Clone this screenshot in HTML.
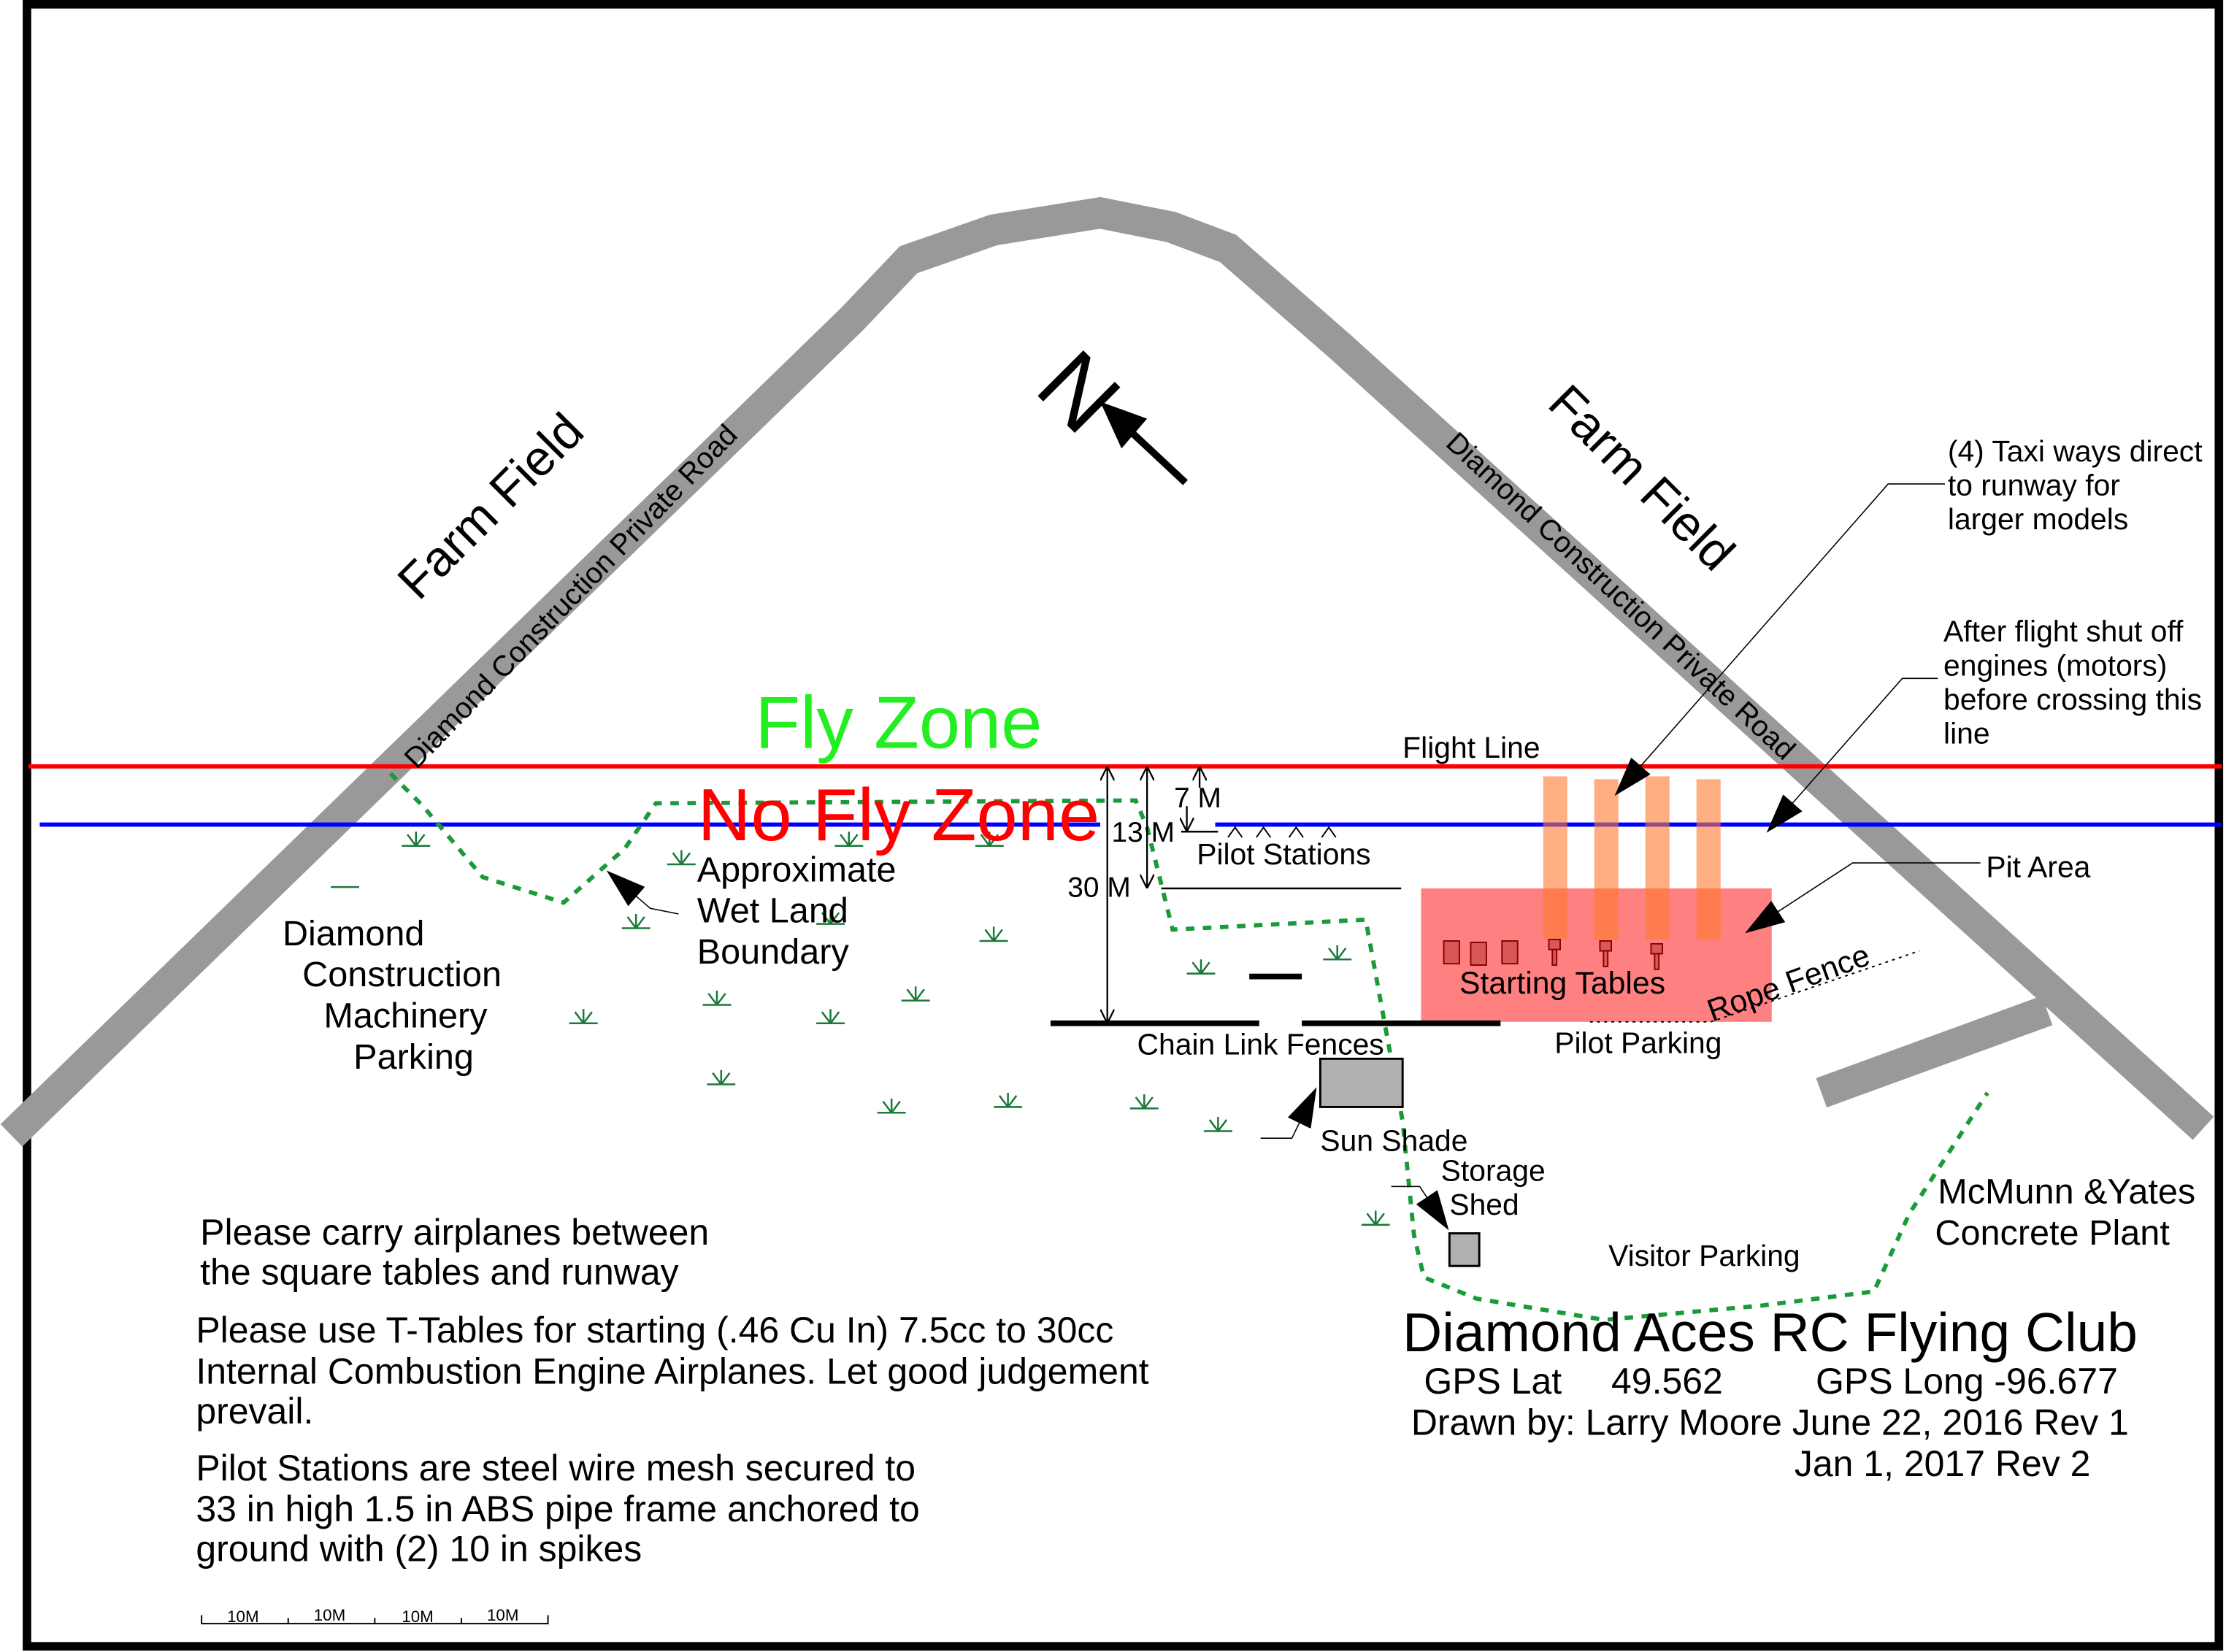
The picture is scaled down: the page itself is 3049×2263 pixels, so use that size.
<!DOCTYPE html>
<html><head><meta charset="utf-8"><style>
html,body{margin:0;padding:0;background:#fff}
svg{display:block}
text{font-family:"Liberation Sans",Arial,sans-serif}
</style></head><body>
<svg width="3049" height="2263" viewBox="0 0 1568 1164" preserveAspectRatio="none" xmlns="http://www.w3.org/2000/svg">
<defs>
<marker id="ah" markerWidth="10" markerHeight="10" refX="9" refY="5" orient="auto-start-reverse" markerUnits="userSpaceOnUse"><path d="M0,0 L10,5 L0,10" fill="none" stroke="#000" stroke-width="1.2"/></marker>
<marker id="fa" markerWidth="28" markerHeight="18" refX="27" refY="9" orient="auto" markerUnits="userSpaceOnUse"><path d="M0,0 L28,9 L0,18 Z" fill="#000"/></marker>
<g id="gr" stroke="#1a7a3a" stroke-width="1.3" fill="none"><path d="M-10,0 H10 M0,0 L-6,-8 M0,0 L0,-10 M0,0 L6,-8"/></g>
</defs>
<rect x="0" y="0" width="1568" height="1164" fill="#fff"/>
<rect x="19" y="3" width="1544" height="1157" fill="none" stroke="#000" stroke-width="6"/>
<!-- road -->
<polyline points="8,800 600,225 640,183 700,162 775,150 825,160 865,175 945,245 1552,795" fill="none" stroke="#999" stroke-width="22" stroke-linejoin="miter"/>
<line x1="1442" y1="712" x2="1283" y2="770" stroke="#999" stroke-width="22"/>
<!-- lines -->
<line x1="20" y1="540" x2="1565" y2="540" stroke="#f00" stroke-width="3"/>
<line x1="28" y1="581" x2="775" y2="581" stroke="#00f" stroke-width="3"/>
<line x1="856" y1="581" x2="1565" y2="581" stroke="#00f" stroke-width="3"/>
<!-- runways and pit -->
<rect x="1001" y="626" width="247" height="94" fill="#ff8080"/>
<g fill="#ff7a30" opacity="0.6"><rect x="1087" y="547" width="17" height="115"/><rect x="1123" y="549" width="17" height="113"/><rect x="1159" y="547" width="17" height="115"/><rect x="1195" y="549" width="17" height="113"/></g>
<g fill="#d85858" stroke="#8b0000" stroke-width="1"><rect x="1017" y="663" width="11" height="16"/><rect x="1036" y="664" width="11" height="16"/><rect x="1058" y="663" width="11" height="16"/>
<rect x="1091" y="662" width="8" height="7"/><rect x="1093.5" y="669" width="3" height="11"/>
<rect x="1127" y="663" width="8" height="7"/><rect x="1129.5" y="670" width="3" height="11"/>
<rect x="1163" y="665" width="8" height="7"/><rect x="1165.5" y="672" width="3" height="11"/></g>
<!-- green boundary -->
<polyline points="275,545 298,568 340,618 397,636 440,598 462,566 800,564 808,583 826,655 962,648 988,790 996,870 1003,900 1040,915 1130,930 1240,920 1320,910 1345,855 1400,770" fill="none" stroke="#1a9a3a" stroke-width="3" stroke-dasharray="6,6"/>
<!-- grass -->
<g>
<use href="#gr" x="293" y="596"/><use href="#gr" x="448" y="654"/><use href="#gr" x="480" y="609"/><use href="#gr" x="598" y="596"/><use href="#gr" x="697" y="596"/><use href="#gr" x="700" y="663"/><use href="#gr" x="505" y="708"/><use href="#gr" x="585" y="721"/><use href="#gr" x="645" y="705"/><use href="#gr" x="411" y="721"/><use href="#gr" x="508" y="764"/><use href="#gr" x="628" y="784"/><use href="#gr" x="710" y="780"/><use href="#gr" x="806" y="781"/><use href="#gr" x="858" y="797"/><use href="#gr" x="846" y="686"/><use href="#gr" x="942" y="676"/><use href="#gr" x="969" y="863"/><use href="#gr" x="585" y="651"/>
<line x1="233" y1="625" x2="253" y2="625" stroke="#1a7a3a" stroke-width="1.3"/>
</g>
<!-- fences etc -->
<g stroke="#000">
<line x1="740" y1="721" x2="887" y2="721" stroke-width="4"/>
<line x1="917" y1="721" x2="1057" y2="721" stroke-width="4"/>
<line x1="818" y1="626" x2="987" y2="626" stroke-width="1.3"/>
<line x1="832" y1="586" x2="858" y2="586" stroke-width="1.3"/>
<line x1="880" y1="688" x2="917" y2="688" stroke-width="4"/>
<path d="M865,590 L870,583 L875,590 M885,590 L890,583 L895,590 M908,590 L913,583 L918,590 M931,590 L936,583 L941,590" fill="none" stroke-width="1"/>
<line x1="780" y1="541" x2="780" y2="720" stroke-width="1.2" marker-start="url(#ah)" marker-end="url(#ah)"/>
<line x1="808" y1="541" x2="808" y2="625" stroke-width="1.2" marker-start="url(#ah)" marker-end="url(#ah)"/>
<line x1="845" y1="555" x2="845" y2="541" stroke-width="1.2" marker-end="url(#ah)"/>
<line x1="836" y1="568" x2="836" y2="585" stroke-width="1.2" marker-end="url(#ah)"/>
</g>
<rect x="930" y="746" width="58" height="34" fill="#b0b0b0" stroke="#000" stroke-width="1.5"/>
<rect x="1021" y="869" width="21" height="23" fill="#b0b0b0" stroke="#000" stroke-width="1.5"/>
<!-- rope fence -->
<polyline points="1120,720 1205,720 1352,670" fill="none" stroke="#000" stroke-width="1" stroke-dasharray="2,3"/>
<!-- leaders -->
<g stroke="#000" stroke-width="0.8" fill="none">
<path d="M478,644 L458,640 L428,614" marker-end="url(#fa)"/>
<path d="M888,802 L910,802 L927,767" marker-end="url(#fa)"/>
<path d="M980,836 L1000,836 L1020,866" marker-end="url(#fa)"/>
<path d="M1370,341 L1330,341 L1138,560" marker-end="url(#fa)"/>
<path d="M1365,478 L1340,478 L1245,586" marker-end="url(#fa)"/>
<path d="M1395,608 L1305,608 L1230,657" marker-end="url(#fa)"/>
</g>
<!-- north arrow -->
<line x1="835" y1="340" x2="790" y2="298" stroke="#000" stroke-width="5"/>
<path d="M775,283 L808,295 L790,316 Z" fill="#000"/>
<text x="0" y="0" font-size="66" transform="translate(744,292) rotate(45)" text-anchor="middle">N</text>
<!-- rotated labels -->
<text font-size="35" text-anchor="middle" transform="translate(354,365) rotate(-45)">Farm Field</text>
<text font-size="20.5" text-anchor="middle" transform="translate(407,425) rotate(-46)">Diamond Construction Private Road</text>
<text font-size="35" text-anchor="middle" transform="translate(1148,345) rotate(45)">Farm Field</text>
<text font-size="20.5" text-anchor="middle" transform="translate(1137,425) rotate(43)">Diamond Construction Private Road</text>
<text font-size="22" transform="translate(1206,720) rotate(-20)">Rope Fence</text>
<!-- big labels -->
<text x="633" y="527" font-size="52" fill="#22ee22" text-anchor="middle">Fly Zone</text>
<text x="633" y="592" font-size="52" fill="#f00" text-anchor="middle">No Fly Zone</text>
<g font-size="25" fill="#000">
<text x="491" y="621">Approximate</text><text x="491" y="650">Wet Land</text><text x="491" y="679">Boundary</text>
<text x="199" y="666">Diamond</text><text x="213" y="695">Construction</text><text x="228" y="724">Machinery</text><text x="249" y="753">Parking</text>
<text x="1365" y="848">McMunn &amp;Yates</text><text x="1363" y="877">Concrete Plant</text>
</g>
<g font-size="25.7" fill="#000">
<text x="141" y="877">Please carry airplanes between</text><text x="141" y="905">the square tables and runway</text>
<text x="138" y="946">Please use T-Tables for starting (.46 Cu In) 7.5cc to 30cc</text>
<text x="138" y="975">Internal Combustion Engine Airplanes. Let good judgement</text>
<text x="138" y="1003">prevail.</text>
<text x="138" y="1043">Pilot Stations are steel wire mesh secured to</text>
<text x="138" y="1072">33 in high 1.5 in ABS pipe frame anchored to</text>
<text x="138" y="1100">ground with (2) 10 in spikes</text>
<text x="1003" y="982">GPS Lat</text><text x="1135" y="982">49.562</text><text x="1279" y="982">GPS Long -96.677</text>
<text x="994" y="1011">Drawn by: Larry Moore June 22, 2016 Rev 1</text>
<text x="1264" y="1040">Jan 1, 2017 Rev 2</text>
</g>
<text x="988" y="952" font-size="38.5">Diamond Aces RC Flying Club</text>
<g font-size="21" fill="#000">
<text x="783" y="593" font-size="20">13 M</text><text x="827" y="569" font-size="20">7 M</text><text x="752" y="632" font-size="20">30 M</text>
<text x="843" y="609">Pilot Stations</text>
<text x="988" y="534">Flight Line</text>
<text x="1028" y="700" font-size="22">Starting Tables</text>
<text x="1095" y="742">Pilot Parking</text>
<text x="801" y="743">Chain Link Fences</text>
<text x="930" y="811">Sun Shade</text>
<text x="1015" y="832">Storage</text><text x="1021" y="856">Shed</text>
<text x="1133" y="892">Visitor Parking</text>
<text x="1372" y="325">(4) Taxi ways direct</text><text x="1372" y="349">to runway for</text><text x="1372" y="373">larger models</text>
<text x="1369" y="452">After flight shut off</text><text x="1369" y="476">engines (motors)</text><text x="1369" y="500">before crossing this</text><text x="1369" y="524">line</text>
<text x="1399" y="618">Pit Area</text>
</g>
<!-- scale bar -->
<path d="M142,1138 V1144 H386 V1138 M203,1140 V1144 M264,1140 V1144 M325,1140 V1144" fill="none" stroke="#000" stroke-width="1"/>
<g font-size="11.5"><text x="160" y="1143">10M</text><text x="221" y="1142">10M</text><text x="283" y="1143">10M</text><text x="343" y="1142">10M</text></g>
</svg>
</body></html>
